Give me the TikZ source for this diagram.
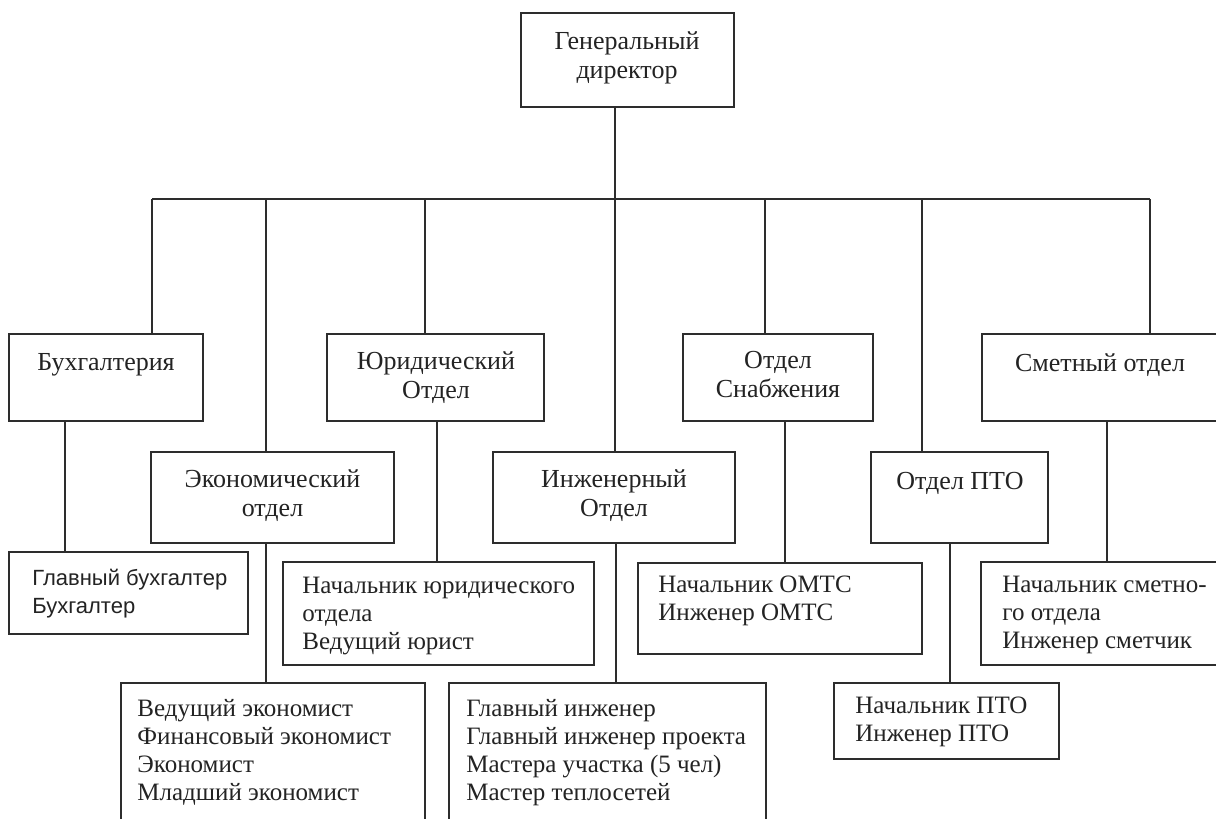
\documentclass[tikz,border=0pt]{standalone}
\usepackage{fontspec}
\newfontfamily\tnr{Liberation Serif}
\newfontfamily\ars{Liberation Sans}
\definecolor{linec}{RGB}{45,45,45}
\definecolor{txtc}{RGB}{35,35,35}
\tikzset{
  box/.style={draw=linec, line width=1.1pt, rectangle, inner sep=0pt, fill=white},
  conn/.style={draw=linec, line width=1.1pt},
  ctxt/.style={font={\tnr\fontsize{13}{14.5}\selectfont}, text=txtc, align=center, inner sep=0pt, anchor=north},
  ltxt/.style={font={\tnr\fontsize{12.5}{14}\selectfont}, text=txtc, align=left, inner sep=0pt, anchor=north west},
  stxt/.style={font={\ars\fontsize{11}{14}\selectfont}, text=txtc, align=left, inner sep=0pt, anchor=north west}
}
\begin{document}
\begin{tikzpicture}[x=0.5pt,y=-0.5pt]
\useasboundingbox (0,0) rectangle (1216,819);
\fill[white] (0,0) rectangle (1216,819);
\begin{scope}
\clip (0,0) rectangle (1216,819);
% boxes
\node[box, minimum width=106.5pt, minimum height=47pt] (gd) at (627.5,60) {};
\node[box, minimum width=97pt, minimum height=43.5pt] (buh) at (106,377.5) {};
\node[box, minimum width=108.5pt, minimum height=43.5pt] (yur) at (435.5,377.5) {};
\node[box, minimum width=95pt, minimum height=43.5pt] (snab) at (778,377.5) {};
\node[box, minimum width=124pt, minimum height=43.5pt] (smet) at (1106,377.5) {};
\node[box, minimum width=121.5pt, minimum height=45.5pt] (eko) at (272.5,497.5) {};
\node[box, minimum width=121pt, minimum height=45.5pt] (ing) at (614,497.5) {};
\node[box, minimum width=88.5pt, minimum height=45.5pt] (pto) at (959.5,497.5) {};
\node[box, minimum width=119.5pt, minimum height=41pt] (glav) at (128.5,593) {};
\node[box, minimum width=155.5pt, minimum height=51.5pt] (nyur) at (438.5,613.5) {};
\node[box, minimum width=142pt, minimum height=45.5pt] (omts) at (780,608.5) {};
\node[box, minimum width=124.5pt, minimum height=51.5pt] (nsmet) at (1105.5,613.5) {};
\node[box, minimum width=152pt, minimum height=78.5pt] (ved) at (273,761.5) {};
\node[box, minimum width=158.5pt, minimum height=78.5pt] (gi) at (607.5,761.5) {};
\node[box, minimum width=112.5pt, minimum height=38pt] (npto) at (946.5,721) {};
% bus coordinates
\coordinate (t1) at (152,199);
\coordinate (t2) at (266,199);
\coordinate (t3) at (425,199);
\coordinate (t4) at (615,199);
\coordinate (t5) at (765,199);
\coordinate (t6) at (922,199);
\coordinate (t7) at (1150,199);
\coordinate (c1) at (65,0);
\coordinate (c2) at (266,0);
\coordinate (c3) at (437,0);
\coordinate (c4) at (616,0);
\coordinate (c5) at (785,0);
\coordinate (c6) at (950,0);
\coordinate (c7) at (1107,0);
% connectors
\draw[conn] (t1) -- (t7);
\draw[conn] (t4 |- gd.south) -- (t4 |- ing.north);
\draw[conn] (t1) -- (t1 |- buh.north);
\draw[conn] (t2) -- (t2 |- eko.north);
\draw[conn] (t3) -- (t3 |- yur.north);
\draw[conn] (t5) -- (t5 |- snab.north);
\draw[conn] (t6) -- (t6 |- pto.north);
\draw[conn] (t7) -- (t7 |- smet.north);
\draw[conn] (c1 |- buh.south) -- (c1 |- glav.north);
\draw[conn] (c2 |- eko.south) -- (c2 |- ved.north);
\draw[conn] (c3 |- yur.south) -- (c3 |- nyur.north);
\draw[conn] (c4 |- ing.south) -- (c4 |- gi.north);
\draw[conn] (c5 |- snab.south) -- (c5 |- omts.north);
\draw[conn] (c6 |- pto.south) -- (c6 |- npto.north);
\draw[conn] (c7 |- smet.south) -- (c7 |- nsmet.north);
% texts
\node[ctxt] (gdt) at (627,31) {Генеральный\\директор};
\node[ctxt] (buht) at (106,353) {Бухгалтерия};
\node[ctxt] (yurt) at (436,351) {Юридический\\Отдел};
\node[ctxt] (snabt) at (778,351) {Отдел\\Снабжения};
\node[ctxt] (smett) at (1100,353) {Сметный отдел};
\node[ctxt] (ekot) at (272.5,469) {Экономический\\отдел};
\node[ctxt] (ingt) at (614,469) {Инженерный\\Отдел};
\node[ctxt] (ptot) at (960,472) {Отдел ПТО};
\node[stxt] (glavt) at (32,569) {Главный бухгалтер\\Бухгалтер};
\node[ltxt] (nyurt) at (302,577) {Начальник юридического\\отдела\\Ведущий юрист};
\node[ltxt] (omtst) at (658,576) {Начальник ОМТС\\Инженер ОМТС};
\node[ltxt] (nsmett) at (1002,576) {Начальник сметно-\\го отдела\\Инженер сметчик};
\node[ltxt] (vedt) at (137,699) {Ведущий экономист\\Финансовый экономист\\Экономист\\Младший экономист};
\node[ltxt] (git) at (466,699) {Главный инженер\\Главный инженер проекта\\Мастера участка (5 чел)\\Мастер теплосетей};
\node[ltxt] (nptot) at (855,697) {Начальник ПТО\\Инженер ПТО};
\end{scope}
\end{tikzpicture}
\end{document}
